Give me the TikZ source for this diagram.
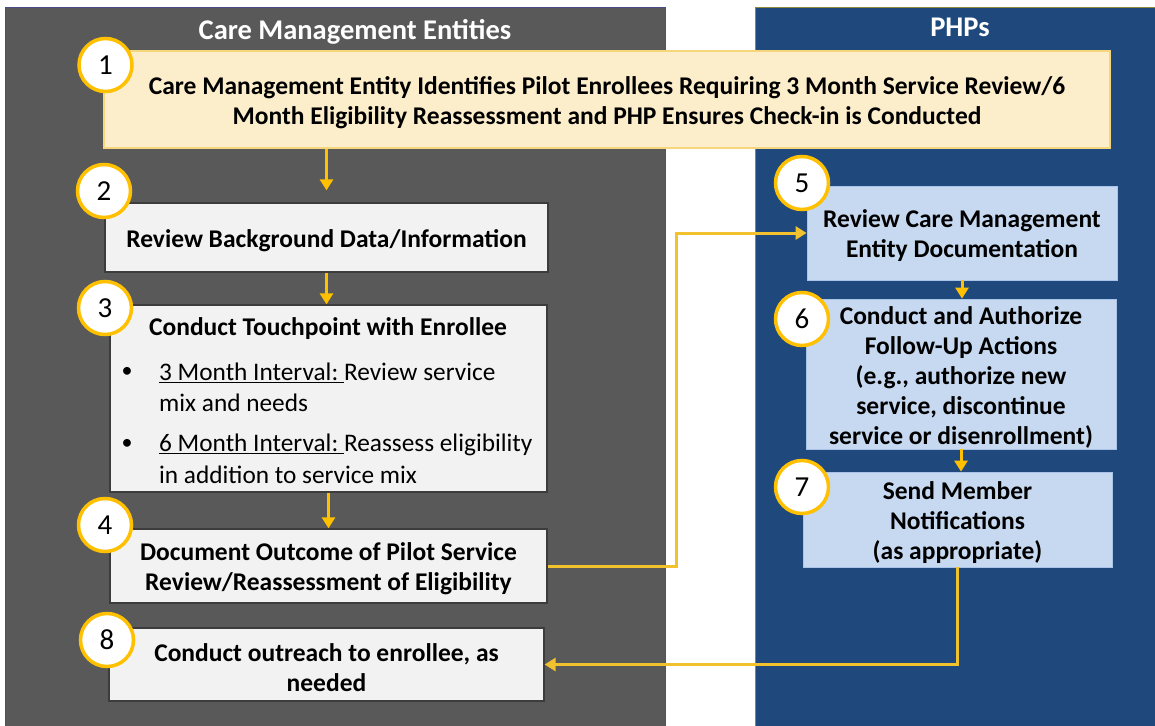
\documentclass[tikz,border=0pt]{standalone}
\usepackage{fontspec}
\setmainfont{Carlito}
\usetikzlibrary{arrows.meta,calc}
\definecolor{panelgray}{HTML}{595959}
\definecolor{navy}{HTML}{1F497D}
\definecolor{gold}{HTML}{FFC000}
\definecolor{linkgold}{HTML}{F2C12E}
\definecolor{tan}{HTML}{FCEDCB}
\definecolor{tanedge}{HTML}{F5D67D}
\definecolor{lightgray}{HTML}{F2F2F2}
\definecolor{boxedge}{HTML}{3C3C3C}
\definecolor{lightblue}{HTML}{C6D9F0}
\definecolor{blueedge}{HTML}{A9C4E8}
\begin{document}
\begin{tikzpicture}[x=1pt,y=-1pt,
  greybox/.style={rectangle, fill=lightgray, draw=boxedge, line width=1.3pt, inner sep=0pt},
  bluebox/.style={rectangle, fill=lightblue, draw=blueedge, line width=0.8pt, inner sep=0pt},
  tanbox/.style={rectangle, fill=tan, draw=tanedge, line width=1.5pt, inner sep=0pt},
  boxtext/.style={font=\bfseries\fontsize{25.5}{30}\selectfont, align=center, inner sep=0pt},
  txt/.style={label={[boxtext, yshift=-3pt]center:{#1}}},
  bodytext/.style={font=\fontsize{25.3}{30}\selectfont, anchor=west, inner sep=0pt},
  bullet/.style={font=\fontsize{22}{22}\selectfont, inner sep=0pt},
  numcircle/.style={circle, fill=white, draw=gold, line width=3.5pt, minimum size=53pt, inner sep=0pt, font=\fontsize{29}{29}\selectfont},
  arr/.style={draw=gold, line width=3pt, -{Triangle[width=13pt,length=11pt]}},
  link/.style={draw=linkgold, line width=3pt, -{Triangle[width=13pt,length=11pt]}},
  paneltitle/.style={text=white, font=\bfseries\fontsize{28.5}{32}\selectfont}]
\useasboundingbox (0,0) rectangle (1155,725);
\fill[white] (0,0) rectangle (1155,725);
% panels
\draw[fill=panelgray, draw=black!40!blue!40!gray, line width=0.8pt] (5,7) rectangle (665,726);
\draw[fill=navy, draw=olive!60!gray, line width=0.8pt] (755,7) rectangle (1156,726);
\node[paneltitle] (t1) at (355,32) {Care Management Entities};
\node[paneltitle] (t2) at (960,27) {PHPs};
% boxes
\node[tanbox, minimum width=1006pt, minimum height=97pt,
  txt={Care Management Entity Identifies Pilot Enrollees Requiring 3 Month Service Review/6\\Month Eligibility Reassessment and PHP Ensures Check-in is Conducted}] (b1) at (607,99.5) {};
\node[greybox, minimum width=443pt, minimum height=69pt,
  txt={Review Background Data/Information}] (b2) at (326.5,237.5) {};
\node[greybox, minimum width=437pt, minimum height=187pt] (b3) at (328.5,398.5) {};
\node[boxtext] (b3t) at (328,329) {Conduct Touchpoint with Enrollee};
\node[bullet] (b3a) at (127,372) {•};
\node[bodytext] (b3b) at (159,373) {\underline{3 Month Interval:\ }Review service};
\node[bodytext] (b3c) at (159,403) {mix and needs};
\node[bullet] (b3d) at (127,444) {•};
\node[bodytext] (b3e) at (159,445) {\underline{6 Month Interval:\ }Reassess eligibility};
\node[bodytext] (b3f) at (159,475) {in addition to service mix};
\node[greybox, minimum width=437pt, minimum height=74pt,
  txt={Document Outcome of Pilot Service\\Review/Reassessment of Eligibility}] (b4) at (328.5,566) {};
\node[greybox, minimum width=435pt, minimum height=73pt,
  txt={Conduct outreach to enrollee, as\\needed}] (b8) at (326.5,664.5) {};
\node[bluebox, minimum width=310pt, minimum height=94pt,
  txt={Review Care Management\\Entity Documentation}] (b5) at (962,233) {};
\node[bluebox, minimum width=310pt, minimum height=150pt,
  txt={Conduct and Authorize\\Follow-Up Actions\\(e.g., authorize new\\service, discontinue\\service or disenrollment)}] (b6) at (961,374) {};
\node[bluebox, minimum width=309pt, minimum height=95pt,
  txt={Send Member\\Notifications\\(as appropriate)}] (b7) at (957.5,519.5) {};
% connectors
\draw[arr] (b1.south -| b2.north) -- ($(b2.north)+(0,-12)$);
\draw[arr] (b2.south) -- (b2.south |- b3.north);
\draw[arr] (b3.south) -- (b4.north);
\draw[link] (b4.east) -- ++(129,0) |- (b5.west);
\draw[arr] (b5.south) -- (b5.south |- b6.north);
\draw[arr] (b6.south) -- (b6.south |- b7.north);
\draw[link] (b7.south) |- (b8.east);
% number circles
\node[numcircle] (n1) at (105.5,65) {1};
\node[numcircle] (n2) at (104,191) {2};
\node[numcircle] (n3) at (105,308) {3};
\node[numcircle] (n4) at (105,525) {4};
\node[numcircle] (n5) at (802,183) {5};
\node[numcircle] (n6) at (802,319) {6};
\node[numcircle] (n7) at (802,487) {7};
\node[numcircle] (n8) at (107,640) {8};
\end{tikzpicture}
\end{document}
